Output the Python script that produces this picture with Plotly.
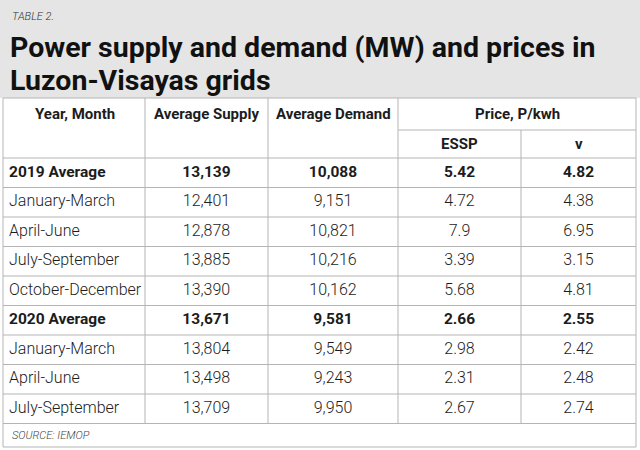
import plotly.graph_objects as go

# ---- data ----
periods = ["2019 Average", "January-March", "April-June", "July-September", "October-December",
           "2020 Average", "January-March", "April-June", "July-September"]
is_average = [True, False, False, False, False, True, False, False, False]
avg_supply = [13139, 12401, 12878, 13885, 13390, 13671, 13804, 13498, 13709]
avg_demand = [10088, 9151, 10821, 10216, 10162, 9581, 9549, 9243, 9950]
price_essp = [5.42, 4.72, 7.9, 3.39, 5.68, 2.66, 2.98, 2.31, 2.67]
price_v = [4.82, 4.38, 6.95, 3.15, 4.81, 2.55, 2.42, 2.48, 2.74]

table_label = "TABLE 2."
title_lines = ["Power supply and demand (MW) and prices in", "Luzon-Visayas grids"]
col_headers = ["Year, Month", "Average Supply", "Average Demand", "Price, P/kwh"]
sub_headers = ["ESSP", "v"]
source = "SOURCE: IEMOP"

# ---- layout constants ----
W, H = 640, 450
col_edges = [3, 145, 268, 398, 521, 636]
header_top = 98
subhead_line = 130
body_top = 158
row_h = 29.5
first_row_c = body_top + row_h / 2
table_bottom = 447
line_col = "#b5b5b5"
txt_col = "#1c1c1c"
BODY_FONT = "Roboto, sans-serif"
TITLE_FONT = "Roboto, sans-serif"

n = len(periods)
row_y = [first_row_c + i * row_h for i in range(n)]

def fmt_int(v):
    return f"{v:,}"

def wrap(txt, bold):
    return f"<span style='font-size:15.5px'><b>{txt}</b></span>" if bold else txt

fig = go.Figure()

centers = [(col_edges[i] + col_edges[i + 1]) / 2 for i in range(5)]
cols = [
    (9, [wrap(p, b) for p, b in zip(periods, is_average)], "middle right"),
    (centers[1], [wrap(fmt_int(v), b) for v, b in zip(avg_supply, is_average)], "middle center"),
    (centers[2], [wrap(fmt_int(v), b) for v, b in zip(avg_demand, is_average)], "middle center"),
    (centers[3], [wrap(str(v), b) for v, b in zip(price_essp, is_average)], "middle center"),
    (centers[4], [wrap(str(v), b) for v, b in zip(price_v, is_average)], "middle center"),
]
for x, texts, pos in cols:
    fig.add_trace(go.Scatter(
        x=[x] * n, y=row_y, mode="text", text=texts, textposition=pos,
        textfont=dict(family=BODY_FONT, size=16, color=txt_col, weight=300),
        hoverinfo="skip", showlegend=False, cliponaxis=False,
    ))

shapes = []
shapes.append(dict(type="rect", xref="x", yref="y", x0=0, x1=W, y0=0, y1=header_top,
                   fillcolor="#e5e5e5", line=dict(width=0), layer="below"))
shapes.append(dict(type="rect", xref="x", yref="y", x0=col_edges[0], x1=col_edges[-1],
                   y0=header_top, y1=table_bottom, line=dict(color=line_col, width=1),
                   fillcolor="rgba(0,0,0,0)", layer="below"))
shapes.append(dict(type="line", xref="x", yref="y", x0=col_edges[3], x1=col_edges[-1],
                   y0=subhead_line, y1=subhead_line, line=dict(color=line_col, width=1)))
for k in range(n + 1):
    y = body_top + k * row_h
    shapes.append(dict(type="line", xref="x", yref="y", x0=col_edges[0], x1=col_edges[-1],
                       y0=y, y1=y, line=dict(color=line_col, width=1)))
last_row_bottom = body_top + n * row_h
for i in range(1, 5):
    y0 = subhead_line if i == 4 else header_top
    shapes.append(dict(type="line", xref="x", yref="y", x0=col_edges[i], x1=col_edges[i],
                       y0=y0, y1=last_row_bottom, line=dict(color=line_col, width=1)))

annotations = []
annotations.append(dict(x=10, y=16, xref="x", yref="y", text=f"<i>{table_label}</i>",
                        showarrow=False, xanchor="left", yanchor="middle",
                        font=dict(family=BODY_FONT, size=11, color="#333333", weight=300)))
for j, line in enumerate(title_lines):
    annotations.append(dict(x=8, y=47 + j * 33, xref="x", yref="y", text=line,
                            showarrow=False, xanchor="left", yanchor="middle",
                            font=dict(family=TITLE_FONT, size=28.5, color="#111111",
                                      weight=700)))
hdr_x = [75, centers[1], centers[2], (col_edges[3] + col_edges[5]) / 2]
for hx, ht in zip(hdr_x, col_headers):
    annotations.append(dict(x=hx, y=114, xref="x", yref="y", text=f"<b>{ht}</b>",
                            showarrow=False, xanchor="center", yanchor="middle",
                            font=dict(family=BODY_FONT, size=15, color=txt_col)))
for hx, ht in zip(centers[3:], sub_headers):
    annotations.append(dict(x=hx, y=144, xref="x", yref="y", text=f"<b>{ht}</b>",
                            showarrow=False, xanchor="center", yanchor="middle",
                            font=dict(family=BODY_FONT, size=15, color=txt_col)))
annotations.append(dict(x=10, y=(last_row_bottom + table_bottom) / 2, xref="x", yref="y",
                        text=f"<i>{source}</i>", showarrow=False, xanchor="left", yanchor="middle",
                        font=dict(family=BODY_FONT, size=11, color="#444444", weight=300)))

fig.update_layout(
    width=W, height=H, margin=dict(l=0, r=0, t=0, b=0),
    paper_bgcolor="white", plot_bgcolor="white",
    xaxis=dict(range=[0, W], visible=False, fixedrange=True),
    yaxis=dict(range=[H, 0], visible=False, fixedrange=True),
    shapes=shapes, annotations=annotations,
)
fig.write_html("out.html", config={"displayModeBar": False},
               post_script="document.body.style.margin='0';")
